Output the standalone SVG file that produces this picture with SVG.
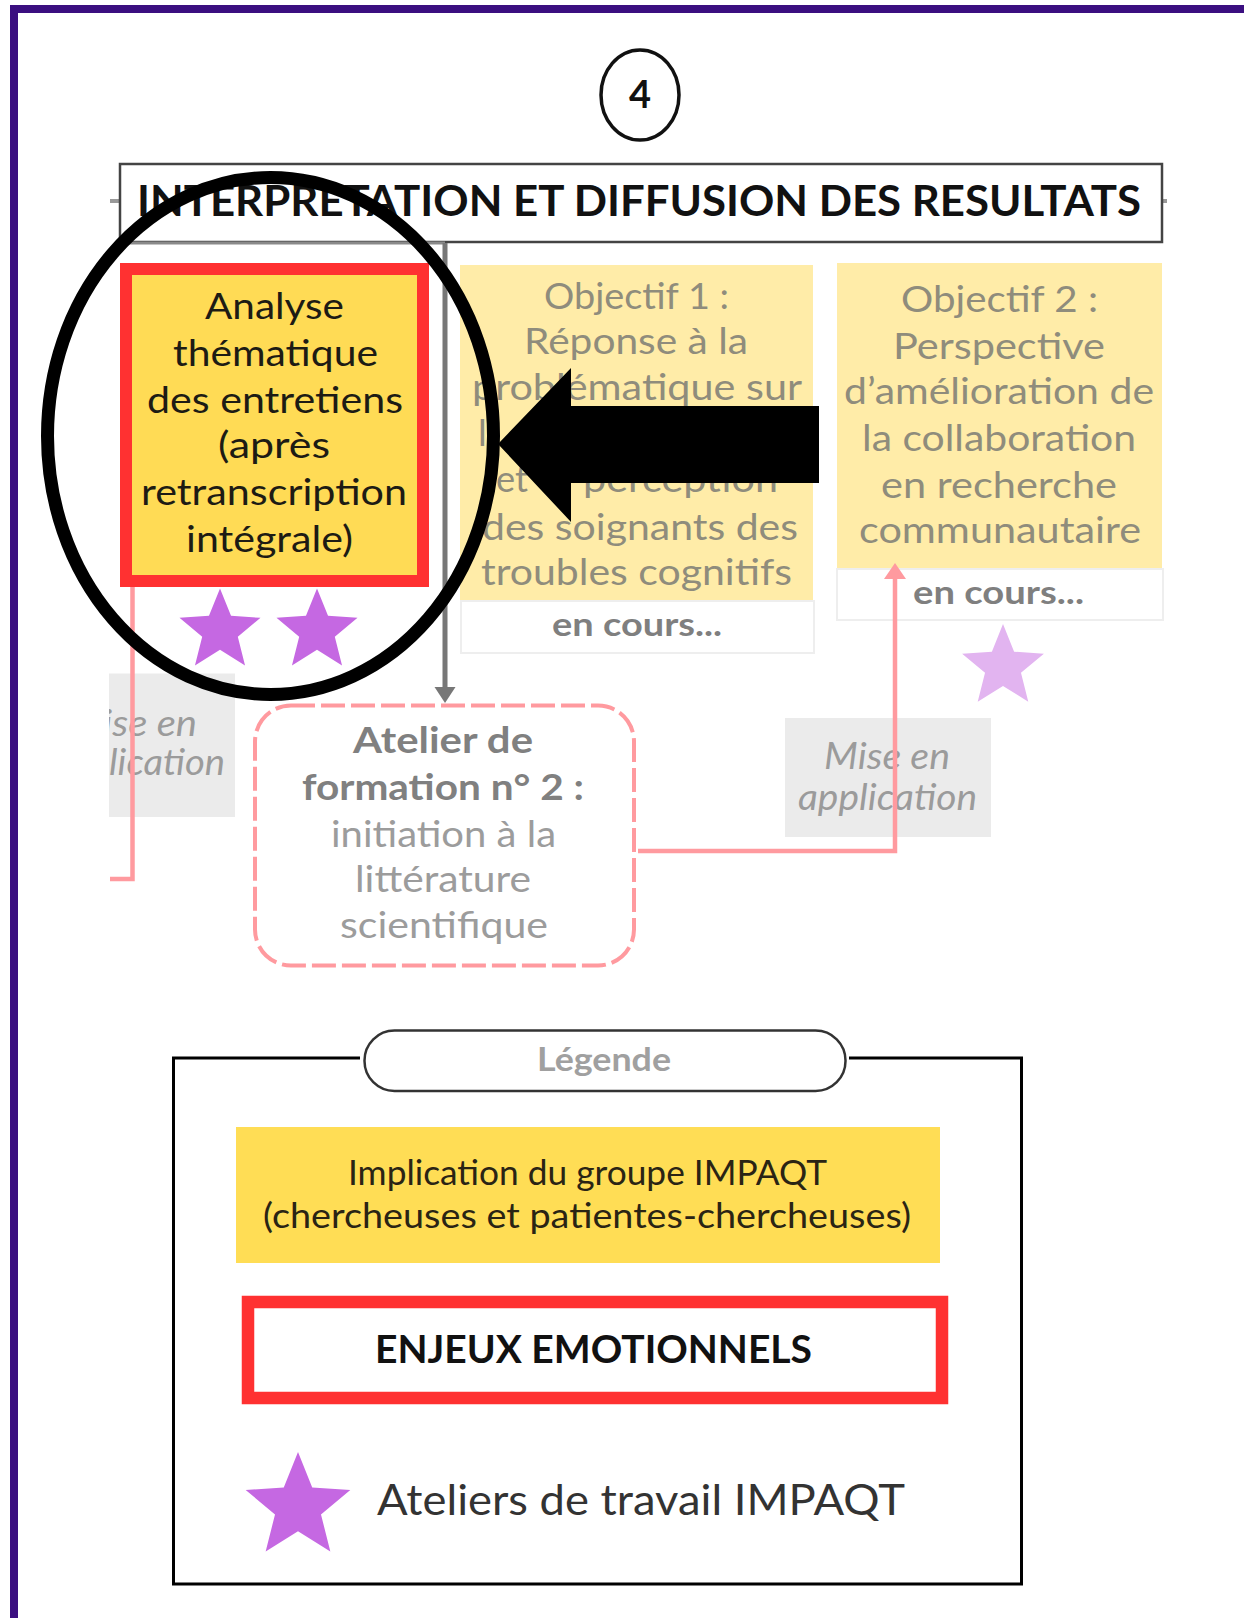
<svg xmlns="http://www.w3.org/2000/svg" width="1244" height="1618" viewBox="0 0 1244 1618">
<style>
text{font-family:"Lato","Liberation Sans",sans-serif}
.a{font-size:37px;fill:#1d1b14}
.o{font-size:37px;fill:#8f8c7c}
.c{font-size:33px;font-weight:700;fill:#7f7f7f}
.i{font-size:37px;font-style:italic;fill:#9b9b9b}
.b{font-size:37px;font-weight:700;fill:#808080}
.g{font-size:37px;fill:#9c9c9c}
.l{font-size:35px;fill:#2a2414}
.pale{fill:#ffeca8}
.cours{fill:#fff;stroke:#eeeeee;stroke-width:2}
.lab{fill:#ebebeb}
.pink{fill:none;stroke:#ff9a9f;stroke-width:4.500}
.star{fill:#c568e2}
</style>
<defs>
<polygon id="st" points="0,-1 .2586,-.356 .951,-.309 .418,.136 .588,.809 0,.44 -.588,.809 -.418,.136 -.951,-.309 -.2586,-.356"/>
<clipPath id="lc"><rect x="109" y="673" width="126" height="144"/></clipPath>
<marker id="ag" markerUnits="userSpaceOnUse" markerWidth="16" markerHeight="22" refX="2" refY="11" orient="auto"><path d="M0,0.500 L16,11 L0,21.500 Z" fill="#777"/></marker>
<marker id="ap" markerUnits="userSpaceOnUse" markerWidth="16" markerHeight="22" refX="2" refY="11" orient="auto"><path d="M0,0 L16,11 L0,22 Z" fill="#ff9a9f"/></marker>
</defs>
<rect width="1244" height="1618" fill="#fff"/>
<path id="frame" d="M14,1618 V9 H1244" fill="none" stroke="#3b0f80" stroke-width="8"/>

<g id="step-number">
<ellipse cx="640" cy="95" rx="39" ry="45" fill="#fff" stroke="#111" stroke-width="3.500"/>
<text x="640" y="108" text-anchor="middle" style="font-size:38px;font-weight:700;fill:#111">4</text>
</g>

<g id="title">
<path d="M110,201 H120 M1162,201 H1167" stroke="#999" stroke-width="4" fill="none"/>
<rect x="120" y="164" width="1042" height="78" fill="#fff" stroke="#444" stroke-width="2.500"/>
<text x="137" y="216" textLength="1004" lengthAdjust="spacingAndGlyphs" style="font-size:42px;font-weight:700;fill:#111">INTERPRETATION ET DIFFUSION DES RESULTATS</text>
</g>

<g id="analyse">
<rect x="126" y="269" width="297" height="312" fill="#ffdb55" stroke="#ff3131" stroke-width="12"/>
<text class="a" x="205" y="319" textLength="139" lengthAdjust="spacingAndGlyphs">Analyse</text>
<text class="a" x="173" y="366" textLength="205" lengthAdjust="spacingAndGlyphs">thématique</text>
<text class="a" x="147" y="413" textLength="256" lengthAdjust="spacingAndGlyphs">des entretiens</text>
<text class="a" x="218" y="458" textLength="112" lengthAdjust="spacingAndGlyphs">(après</text>
<text class="a" x="141" y="505" textLength="266" lengthAdjust="spacingAndGlyphs">retranscription</text>
<text class="a" x="186" y="552" textLength="167" lengthAdjust="spacingAndGlyphs">intégrale)</text>
</g>
<g id="stars-analyse">
<use href="#st" class="star" transform="translate(220,631) scale(42.600)"/>
<use href="#st" class="star" transform="translate(317,631) scale(42.600)"/>
</g>

<g id="objectif-1">
<rect class="pale" x="460" y="265" width="353" height="336"/>
<text class="o" x="544" y="309" textLength="185" lengthAdjust="spacingAndGlyphs">Objectif 1 :</text>
<text class="o" x="524" y="354" textLength="224" lengthAdjust="spacingAndGlyphs">Réponse à la</text>
<text class="o" x="472" y="400" textLength="330" lengthAdjust="spacingAndGlyphs">problématique sur</text>
<text class="o" x="478" y="446">l</text>
<text class="o" x="496" y="492" textLength="32" lengthAdjust="spacingAndGlyphs">et</text>
<text class="o" x="583" y="492" textLength="195" lengthAdjust="spacingAndGlyphs">perception</text>
<text class="o" x="482" y="540" textLength="316" lengthAdjust="spacingAndGlyphs">des soignants des</text>
<text class="o" x="481" y="585" textLength="311" lengthAdjust="spacingAndGlyphs">troubles cognitifs</text>
<rect class="cours" x="461" y="601" width="353" height="52"/>
<text class="c" x="552" y="636" textLength="170" lengthAdjust="spacingAndGlyphs">en cours...</text>
</g>

<g id="objectif-2">
<rect class="pale" x="837" y="263" width="325" height="306"/>
<text class="o" x="901" y="312" textLength="197" lengthAdjust="spacingAndGlyphs">Objectif 2 :</text>
<text class="o" x="893" y="359" textLength="212" lengthAdjust="spacingAndGlyphs">Perspective</text>
<text class="o" x="844" y="404" textLength="310" lengthAdjust="spacingAndGlyphs">d’amélioration de</text>
<text class="o" x="862" y="451" textLength="274" lengthAdjust="spacingAndGlyphs">la collaboration</text>
<text class="o" x="881" y="498" textLength="236" lengthAdjust="spacingAndGlyphs">en recherche</text>
<text class="o" x="859" y="543" textLength="282" lengthAdjust="spacingAndGlyphs">communautaire</text>
<rect class="cours" x="837" y="569" width="326" height="51"/>
<text class="c" x="913" y="604" textLength="171" lengthAdjust="spacingAndGlyphs">en cours...</text>
</g>
<g id="star-objectif-2">
<use href="#st" fill="#e2b4f0" transform="translate(1003,667) scale(43)"/>
</g>

<g id="mise-en-application-gauche">
<rect class="lab" x="109" y="673.500" width="126" height="143.500"/>
<g clip-path="url(#lc)">
<text class="i" x="103" y="736" textLength="94" lengthAdjust="spacingAndGlyphs">ise en</text>
<text class="i" x="109" y="775" textLength="116" lengthAdjust="spacingAndGlyphs">lication</text>
</g>
</g>

<g id="mise-en-application-droite">
<rect class="lab" x="785" y="718" width="206" height="119"/>
<text class="i" x="824" y="769" textLength="126" lengthAdjust="spacingAndGlyphs">Mise en</text>
<text class="i" x="798" y="810" textLength="179" lengthAdjust="spacingAndGlyphs">application</text>
</g>

<g id="atelier-2">
<rect x="255" y="705.500" width="379" height="260" rx="36" fill="#fff" stroke="#ff9a9f" stroke-width="4" stroke-dasharray="24 6"/>
<text class="b" x="353" y="753" textLength="180" lengthAdjust="spacingAndGlyphs">Atelier de</text>
<text class="b" x="302" y="800" textLength="282" lengthAdjust="spacingAndGlyphs">formation n° 2 :</text>
<text class="g" x="331" y="847" textLength="225" lengthAdjust="spacingAndGlyphs">initiation à la</text>
<text class="g" x="355" y="892" textLength="176" lengthAdjust="spacingAndGlyphs">littérature</text>
<text class="g" x="340" y="938" textLength="208" lengthAdjust="spacingAndGlyphs">scientifique</text>
</g>

<g id="connectors">
<path d="M127,243 H445" fill="none" stroke="#8a8a8a" stroke-width="3"/>
<path d="M445,243 V689" fill="none" stroke="#777" stroke-width="5" marker-end="url(#ag)"/>
<path class="pink" d="M132.500,587 V879 H110"/>
<path class="pink" d="M638,851 H895 V577" marker-end="url(#ap)"/>
</g>

<g id="legende">
<path d="M360,1058 H173.500 V1584 H1021.500 V1058 H849" fill="none" stroke="#000" stroke-width="3"/>
<rect x="364.500" y="1030.500" width="481" height="60.500" rx="30" fill="#fff" stroke="#333" stroke-width="2.500"/>
<text x="537" y="1071" textLength="134" lengthAdjust="spacingAndGlyphs" style="font-size:33px;font-weight:700;fill:#a0a0a0">Légende</text>
</g>
<g id="legende-implication">
<rect x="236" y="1127" width="704" height="136" fill="#ffdd55"/>
<text class="l" x="348" y="1185" textLength="479" lengthAdjust="spacingAndGlyphs">Implication du groupe IMPAQT</text>
<text class="l" x="263" y="1228" textLength="648" lengthAdjust="spacingAndGlyphs">(chercheuses et patientes-chercheuses)</text>
</g>
<g id="legende-enjeux">
<rect x="248" y="1302" width="694" height="96" fill="#fff" stroke="#ff3131" stroke-width="12.500"/>
<text x="375" y="1363" textLength="437" lengthAdjust="spacingAndGlyphs" style="font-size:38px;font-weight:700;fill:#111">ENJEUX EMOTIONNELS</text>
</g>
<g id="legende-ateliers">
<use href="#st" class="star" transform="translate(298,1507) scale(55)"/>
<text x="377" y="1515" textLength="528" lengthAdjust="spacingAndGlyphs" style="font-size:43px;fill:#333">Ateliers de travail IMPAQT</text>
</g>

<g id="annotation">
<ellipse cx="270.500" cy="436" rx="223" ry="258.500" fill="none" stroke="#000" stroke-width="13"/>
<polygon points="498,444 571,368 571,406 819,406 819,483 571,483 571,522" fill="#000"/>
</g>
</svg>
